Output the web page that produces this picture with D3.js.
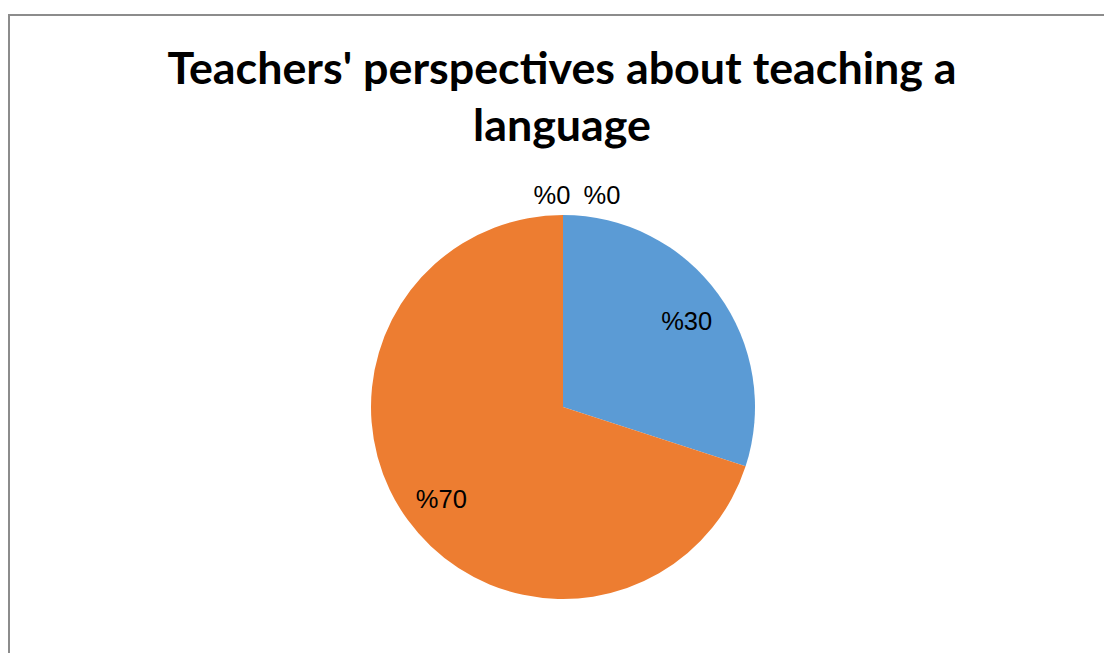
<!DOCTYPE html>
<html><head><meta charset="utf-8">
<script src="https://cdn.jsdelivr.net/npm/d3@7"></script>
<style>html,body{margin:0;padding:0;background:#fff;overflow:hidden}</style>
</head><body>
<svg id="chart" width="1104" height="653"></svg>
<script>
const categories = ["Option 1", "Option 2", "Option 3", "Option 4"];
const values = [30, 70, 0, 0];
const labels = ["%30", "%70", "%0", "%0"];
const colors = ["#5B9BD5", "#ED7D31", "#A5A5A5", "#FFC000"];
const titleLines = ["Teachers' perspectives about teaching a", "language"];

const svg = d3.select("#chart");
svg.append("rect").attr("x", 9).attr("y", 15).attr("width", 1104).attr("height", 700)
  .attr("fill", "#fff").attr("stroke", "#8c8c8c").attr("stroke-width", 2);

svg.append("text").attr("x", 562).attr("text-anchor", "middle")
  .attr("font-family", "Lato, 'Open Sans', sans-serif").attr("font-weight", 700)
  .attr("font-size", 44.8).attr("fill", "#000")
  .selectAll("tspan").data(titleLines).join("tspan")
  .attr("x", 562).attr("y", (d, i) => 84 + i * 57).text(d => d);

const cx = 563, cy = 407, r = 192;
const pie = d3.pie().sort(null).value(d => d.v);
const arcs = pie(categories.map((c, i) => ({c, v: values[i], i})));
const arc = d3.arc().innerRadius(0).outerRadius(r);
const labelArc = d3.arc().innerRadius(r * 0.79).outerRadius(r * 0.79);

const g = svg.append("g").attr("transform", `translate(${cx},${cy})`);
g.selectAll("path").data(arcs).join("path")
  .attr("d", arc).attr("fill", d => colors[d.data.i]);

const zeroIdx = [];
arcs.forEach((a, k) => { if (a.data.v === 0) zeroIdx.push(k); });
g.selectAll("text.lbl").data(arcs).join("text").attr("class", "lbl")
  .attr("font-family", "'Liberation Sans', Arial, sans-serif").attr("font-size", 25.5)
  .attr("fill", "#000").attr("text-anchor", "middle").attr("dominant-baseline", "central")
  .attr("transform", d => {
    if (d.data.v === 0) {
      const j = zeroIdx.indexOf(arcs.indexOf(d));
      const ang = d.startAngle;
      const x = Math.sin(ang) * (r + 20) + (j === 0 ? -11 : 39);
      const y = -Math.cos(ang) * (r + 20) - 0.5;
      return `translate(${x},${y})`;
    }
    const [x, y] = labelArc.centroid(d);
    return `translate(${x + 1},${y + 3})`;
  })
  .text(d => labels[d.data.i]);
</script>
</body></html>
